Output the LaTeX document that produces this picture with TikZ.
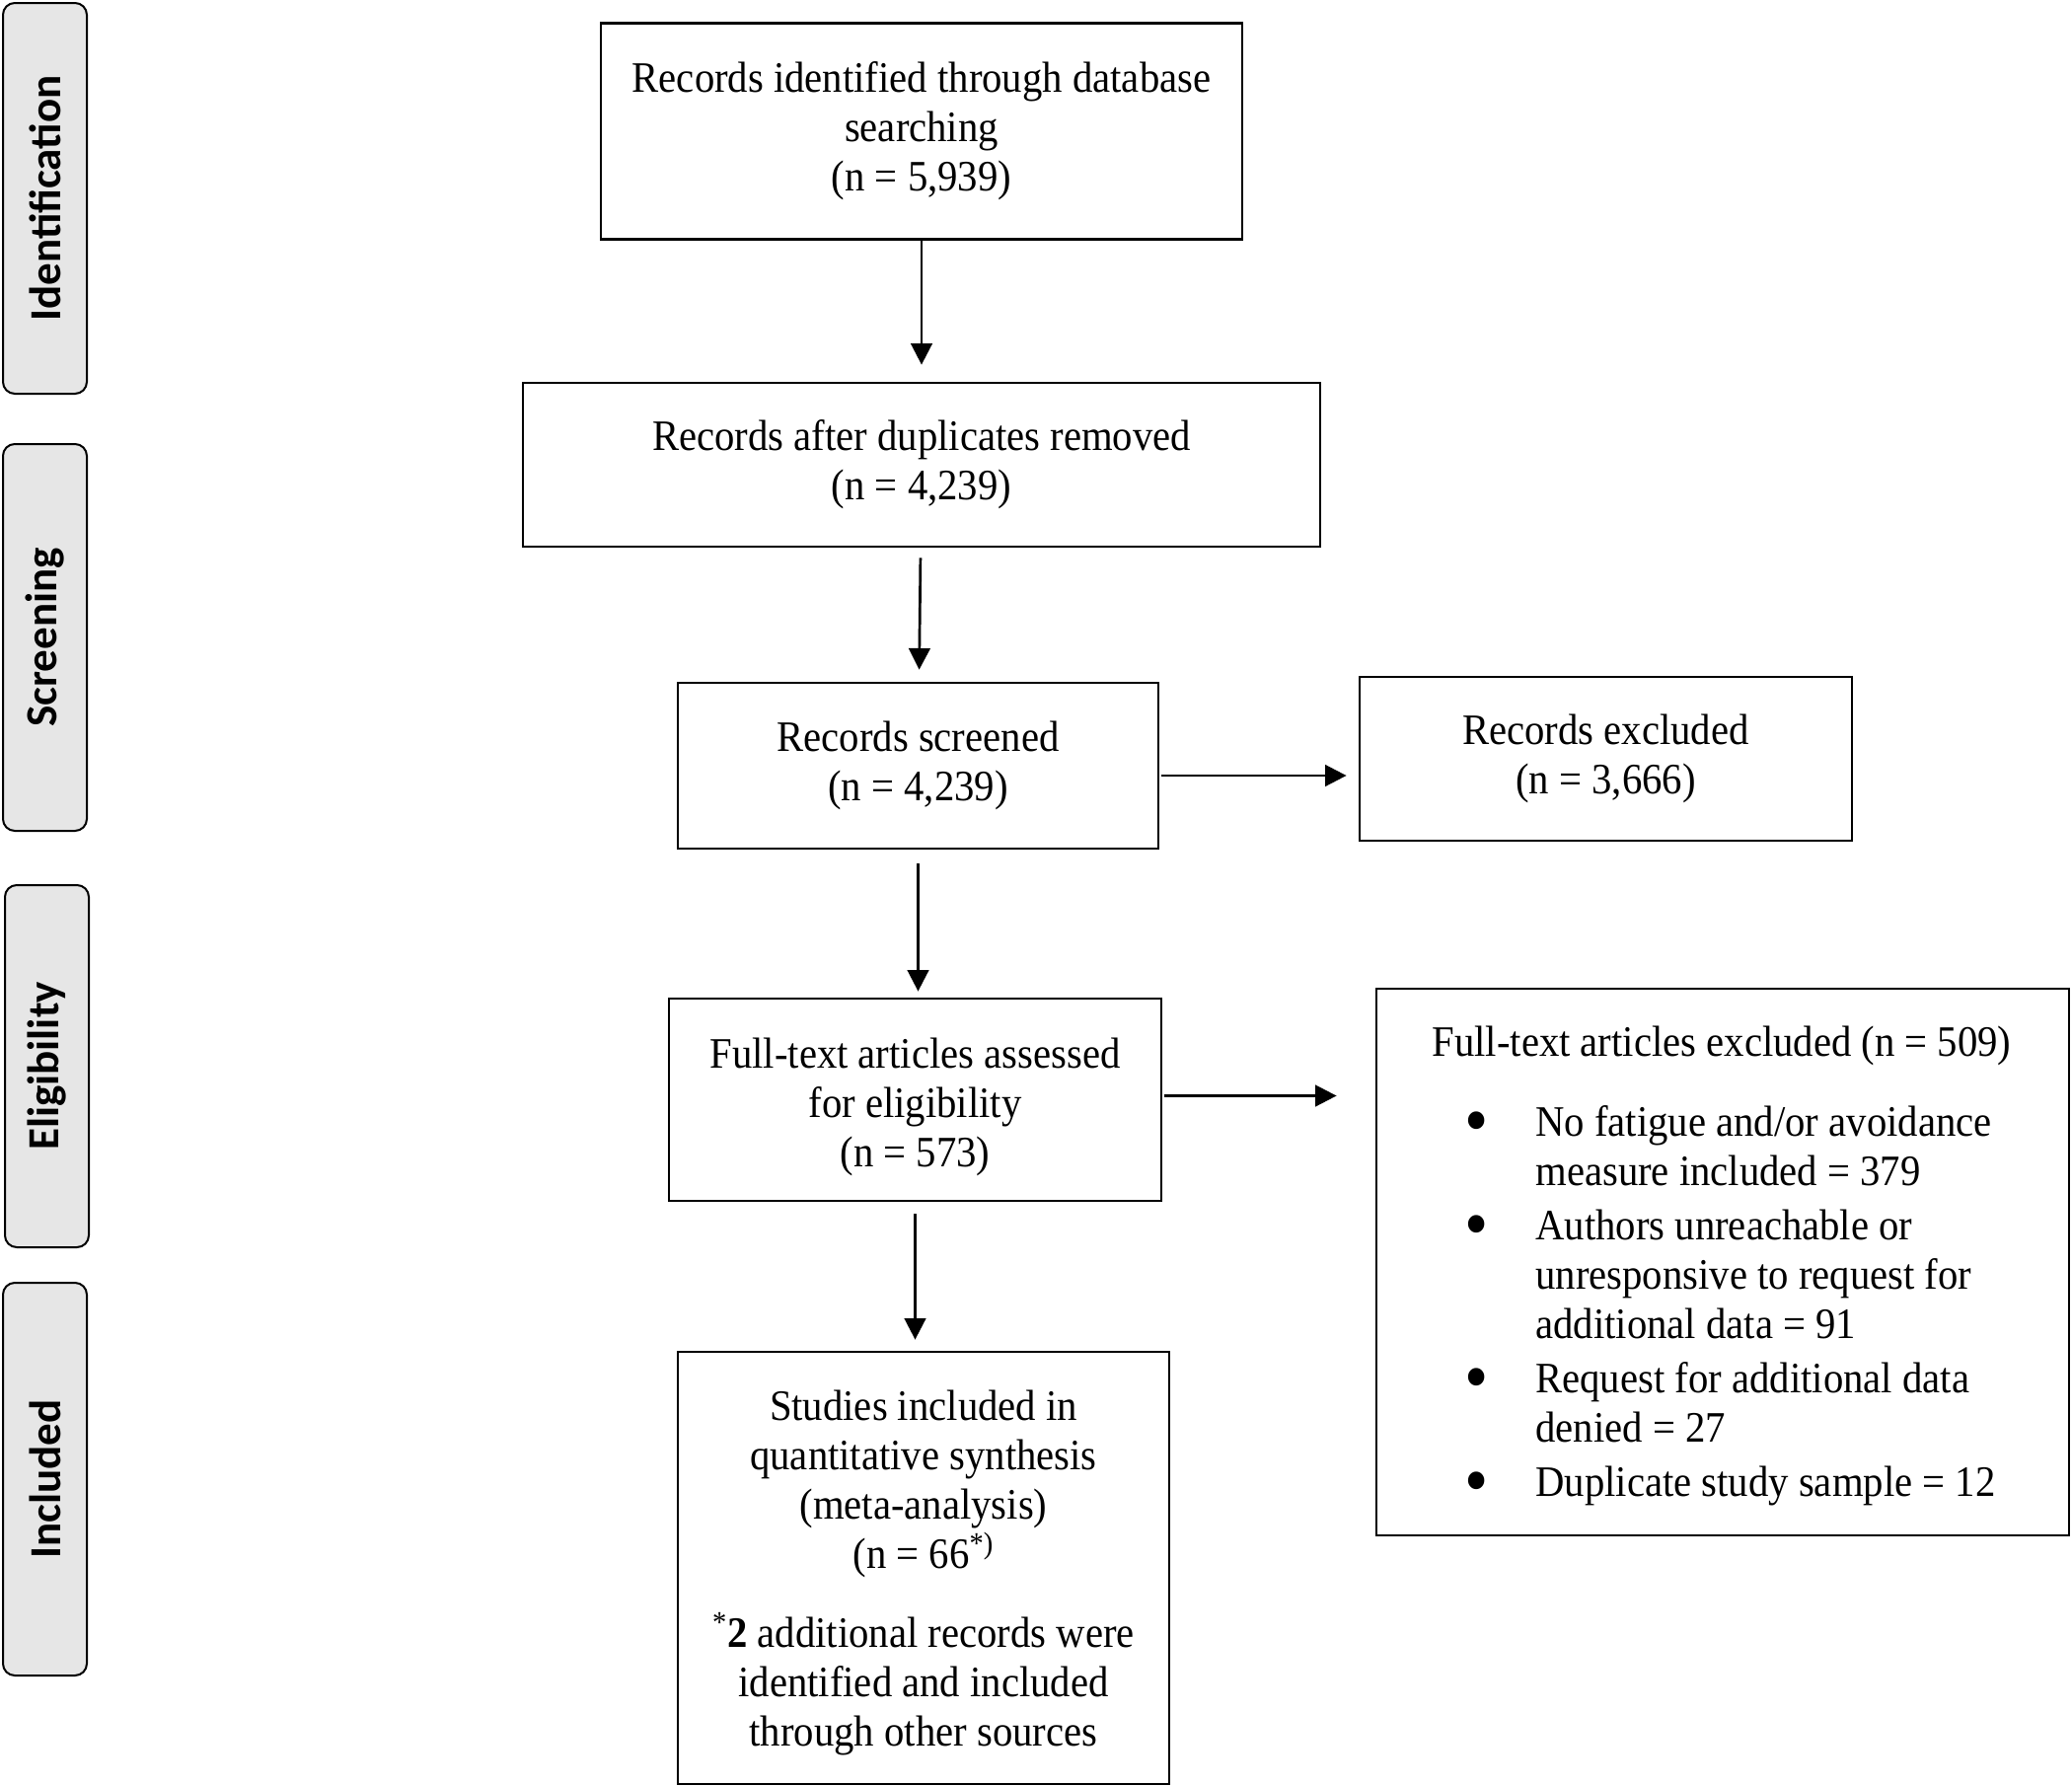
\documentclass[tikz,border=0pt]{standalone}
\usepackage{fontspec}
\usepackage{graphicx}
\setmainfont{Liberation Serif}[FakeStretch=0.925]
\newfontfamily\sidefont{Carlito}
\usetikzlibrary{arrows.meta,calc}
\definecolor{sidegray}{RGB}{230,230,230}
\newcommand{\bigbul}{\makebox[36pt][l]{\raisebox{-4.5pt}{\scalebox{1.7}{\textbullet}}}}
\newcommand{\bulind}{\hspace*{36pt}}
\begin{document}
\begin{tikzpicture}[x=0.5pt,y=-0.5pt,
  mainbox/.style={draw, line width=1.4pt, align=center, inner sep=0pt, font=\fontsize{22}{25}\selectfont},
  txt/.style={inner sep=0pt, font=\fontsize{22}{25}\selectfont},
  sidebox/.style={draw, line width=1pt, fill=sidegray, rounded corners=6pt, rotate=90,
    minimum height=42.5pt, inner sep=0pt, font=\sidefont\bfseries\fontsize{22.5}{27}\selectfont},
  arr/.style={line width=1.35pt, -{Triangle[length=10.8pt,width=10.8pt]}}
]
\useasboundingbox (0,0) rectangle (2100,1810);

% phase labels
\node[sidebox, minimum width=198pt] (sid) at (45.5,201) {Identification};
\node[sidebox, minimum width=196pt] (sscr) at (45.5,646) {Screening};
\node[sidebox, minimum width=183.5pt] (selig) at (47.5,1080.5) {Eligibility};
\node[sidebox, minimum width=199pt] (sincl) at (45.5,1499) {Included};

% main boxes
\node[mainbox, minimum width=325pt, minimum height=109.5pt] (b1) at (934,133)
  {Records identified through database\\searching\\(n = 5,939)};
\node[mainbox, minimum width=404pt, minimum height=83pt] (b2) at (934,471)
  {Records after duplicates removed\\(n = 4,239)};
\node[mainbox, minimum width=243.5pt, minimum height=84pt] (b3) at (930.5,776)
  {Records screened\\(n = 4,239)};
\node[mainbox, minimum width=249.5pt, minimum height=83pt] (b4) at (1627.5,769)
  {Records excluded\\(n = 3,666)};
\node[mainbox, minimum width=249.5pt, minimum height=102.5pt] (b5) at (927.5,1114.5)
  {\rule{0pt}{23pt}Full-text articles assessed\\for eligibility\\(n = 573)};
\node[mainbox, minimum width=351pt, minimum height=277pt] (b6) at (1746,1279) {};
\node[txt] (b6head) at (1745,1060) {Full-text articles excluded (n = 509)};
\node[txt, align=left, anchor=north west] (b6list) at (1484,1120)
  {\bigbul No fatigue and/or avoidance\\
   \bulind measure included = 379\\[2.5pt]
   \bigbul Authors unreachable or\\
   \bulind unresponsive to request for\\
   \bulind additional data = 91\\[2.5pt]
   \bigbul Request for additional data\\
   \bulind denied = 27\\[2.5pt]
   \bigbul Duplicate study sample = 12};
\node[mainbox, minimum width=249pt, minimum height=219pt] (b7) at (936,1589)
  {\rule{0pt}{20.5pt}Studies included in\\quantitative synthesis\\(meta-analysis)\\(n = 66\textsuperscript{*)}\\[15pt]
   \textsuperscript{*}\textbf{2} additional records were\\identified and included\\through other sources};

% connectors
\draw[arr, shorten >=8.5pt] (b1) -- (b2);
\draw[arr, shorten <=5pt, shorten >=6pt] (b2) -- (b3);
\coordinate (a3s) at ([yshift=-5pt]b3.east);
\draw[arr, shorten <=1pt, shorten >=6pt] (a3s) -- (a3s -| b4.west);
\draw[arr, shorten <=7pt, shorten >=3pt] (b3.south) -- (b3.south |- b5.north);
\coordinate (a5s) at ([yshift=2pt]b5.east);
\draw[arr, shorten <=1pt, shorten >=19.5pt] (a5s) -- (a5s -| b6.west);
\coordinate (a6s) at (b5.south);
\draw[arr, shorten <=6pt, shorten >=5.5pt] (a6s) -- (a6s |- b7.north);
\end{tikzpicture}
\end{document}
